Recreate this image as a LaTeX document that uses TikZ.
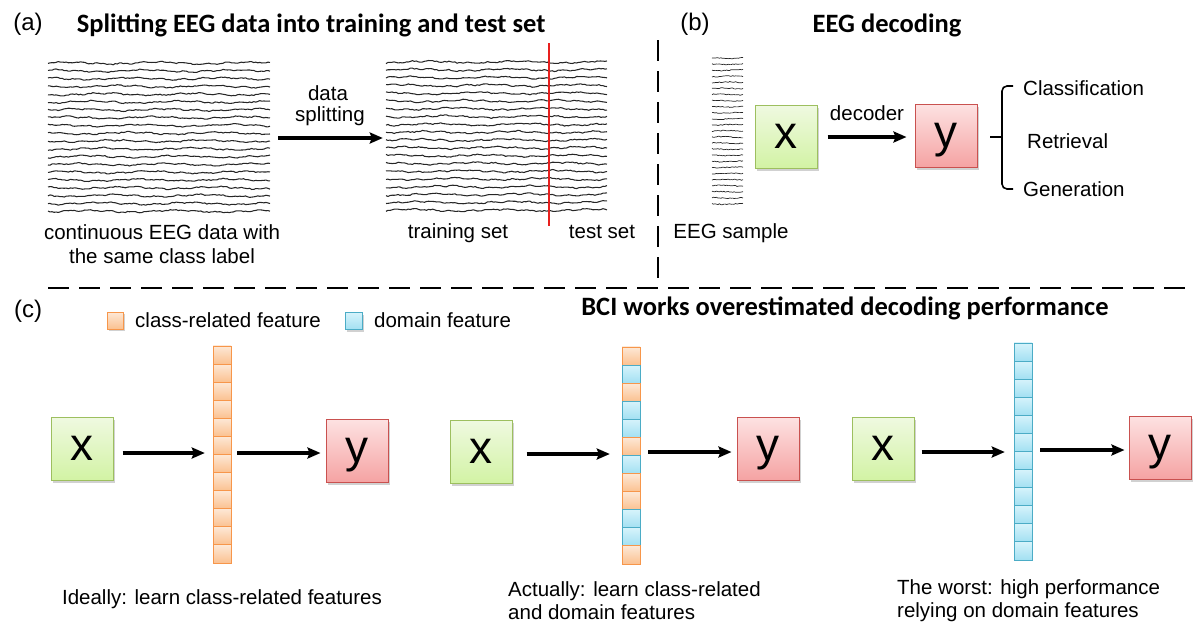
\documentclass[tikz,border=0pt]{standalone}
\usepackage{fontspec}
\setmainfont{Liberation Sans}
\newfontfamily\titlefont{Carlito}
\usetikzlibrary{arrows.meta,shadows,calc}
\definecolor{xgreenT}{HTML}{EFF9E0}
\definecolor{xgreenB}{HTML}{D2F3A4}
\definecolor{xgreenD}{HTML}{9DBF5F}
\definecolor{yredT}{HTML}{FDE2E2}
\definecolor{yredB}{HTML}{F5A2A2}
\definecolor{yredD}{HTML}{C9514F}
\definecolor{orT}{HTML}{FDE8D6}
\definecolor{orB}{HTML}{FBC190}
\definecolor{orD}{HTML}{F7964A}
\definecolor{blT}{HTML}{D6F3FB}
\definecolor{blB}{HTML}{A2E0F2}
\definecolor{blD}{HTML}{4BACC6}
\definecolor{splitred}{HTML}{E8201E}
\begin{document}
\begin{tikzpicture}[x=1pt,y=-1pt,
  lbl/.style={font=\fontsize{20.5}{24}\selectfont, inner sep=0pt},
  plbl/.style={font=\fontsize{24}{28}\selectfont, inner sep=0pt},
  ttl/.style={font=\titlefont\bfseries\fontsize{26.5}{30}\selectfont, inner sep=0pt},
  shade/.style={drop shadow={shadow xshift=1.5pt, shadow yshift=-2pt, opacity=0.3, fill=black!60}},
  xbox/.style={draw=xgreenD, line width=1pt, top color=xgreenT, bottom color=xgreenB,
     minimum width=62pt, minimum height=63pt, inner sep=0pt, text height=23.9pt, text depth=0pt,
     font=\fontsize{46}{46}\selectfont, shade},
  ybox/.style={draw=yredD, line width=1pt, top color=yredT, bottom color=yredB,
     minimum width=62pt, minimum height=63pt, inner sep=0pt, text height=23.9pt, text depth=0pt,
     font=\fontsize{46}{46}\selectfont, shade},
  cello/.style={draw=orD, line width=0.9pt, top color=orT, bottom color=orB,
     minimum width=18pt, minimum height=18.1pt, inner sep=0pt},
  cellb/.style={draw=blD, line width=0.9pt, top color=blT, bottom color=blB,
     minimum width=18pt, minimum height=18.1pt, inner sep=0pt},
  colbox/.style={inner sep=0pt, minimum width=18pt, minimum height=217pt},
  arr/.style={-{Stealth[length=13pt,width=11pt,inset=2pt]}, line width=3.3pt},
  dashline/.style={line width=2.6pt, dash pattern=on 21pt off 10pt},
  trace/.style={line width=1.05pt, black!85, line join=round},
  smalltrace/.style={line width=0.7pt, black!85, line join=round}
]
\useasboundingbox (0,0) rectangle (1200,633);
\pgfmathsetseed{7}

% arrow heights
\coordinate (ha) at (0,138);
\coordinate (hb) at (0,137);
\coordinate (h1) at (0,453);
\coordinate (h2a) at (0,454);
\coordinate (h2b) at (0,452);
\coordinate (h3a) at (0,452);
\coordinate (h3b) at (0,450);

% ---------------- (a) ----------------
\node[plbl, anchor=base] (la) at (28,30) {(a)};
\node[ttl, anchor=base] (ta) at (311,32) {Splitting EEG data into training and test set};

\node[colbox, minimum width=222pt, minimum height=150pt] (eegA) at (159,137) {};
\node[colbox, minimum width=221pt, minimum height=150pt] (eegB) at (496.5,136) {};

\foreach \k in {0,...,19}{
  \pgfmathsetmacro\yy{63+\k*7.8}
  \draw[trace] plot[domain=48:270, samples=110] (\x,{\yy+0.9*sin(\x*4+\k*53)+0.5*sin(\x*17+\k*29)+0.5*rand});
  \draw[trace] plot[domain=386:607, samples=110] (\x,{\yy-1+0.9*sin(\x*4+\k*41)+0.5*sin(\x*19+\k*17)+0.5*rand});
}
\draw[splitred, line width=2pt] (549,43) -- (549,226);

\draw[arr, shorten <=8pt, shorten >=3pt] (eegA.east |- ha) -- (eegB.west |- ha);
\node[lbl, anchor=base] (ds1) at (328,100) {data};
\node[lbl, anchor=base] (ds2) at (330,121) {splitting};

\node[lbl, anchor=base] (ca1) at (162,239) {continuous EEG data with};
\node[lbl, anchor=base] (ca2) at (162,263) {the same class label};
\node[lbl, anchor=base] (trs) at (458,238) {training set};
\node[lbl, anchor=base] (tes) at (602,238) {test set};

% ---------------- divider lines ----------------
\draw[dashline] (658,40) -- (658,282);
\draw[dashline] (48,288) -- (1192,288);

% ---------------- (b) ----------------
\node[plbl, anchor=base] (lb) at (695,30) {(b)};
\node[ttl, anchor=base] (tb) at (887,32) {EEG decoding};

\foreach \k in {0,...,24}{
  \pgfmathsetmacro\yy{58+\k*6.08}
  \draw[smalltrace] plot[domain=712:743, samples=22] (\x,{\yy+0.4*sin(\x*9+\k*47)+0.45*rand});
}
\node[lbl, anchor=base] (es) at (731,238) {EEG sample};

\node[xbox] (xb) at (786,137) {x};
\node[ybox] (yb) at (946,136) {y};
\draw[arr, shorten <=10pt, shorten >=8pt] (xb.east |- hb) -- (yb.west |- hb);
\node[lbl, anchor=base] (dec) at (867,120) {decoder};

\draw[line width=1.6pt, rounded corners=5pt] (1013,86) -- (1002,86) -- (1002,189) -- (1013,189);
\draw[line width=1.6pt] (990,137) -- (1002,137);
\node[lbl, anchor=base west] (cls) at (1023,95) {Classification};
\node[lbl, anchor=base west] (ret) at (1027,148) {Retrieval};
\node[lbl, anchor=base west] (gen) at (1023,196) {Generation};

% ---------------- (c) ----------------
\node[plbl, anchor=base] (lc) at (28,317) {(c)};
\node[ttl, anchor=base] (tc) at (845,315) {BCI works overestimated decoding performance};

\node[cello, minimum width=16pt, minimum height=17pt, shade] (lego) at (115,320.5) {};
\node[lbl, anchor=base west] (legot) at (135,327) {class-related feature};
\node[cellb, minimum width=17pt, minimum height=17pt, shade] (legb) at (354,321) {};
\node[lbl, anchor=base west] (legbt) at (374,327) {domain feature};

% panel c1
\node[xbox] (x1) at (82,449) {x};
\node[ybox] (y1) at (357,451) {y};
\node[colbox] (colA) at (222,454.5) {};
\foreach \c [count=\i] in {o,o,o,o,o,o,o,o,o,o,o,o}
  \node[cell\c] (a\i) at (222,{346+(\i-0.5)*18.08}) {};
\draw[arr, shorten <=9pt, shorten >=8pt] (x1.east |- h1) -- (colA.west |- h1);
\draw[arr, shorten <=6pt, shorten >=5pt] (colA.east |- h1) -- (y1.west |- h1);
\node[lbl, anchor=base] (cap1) at (222,604) {Ideally: learn class-related features};

% panel c2
\node[xbox] (x2) at (481,452) {x};
\node[ybox] (y2) at (768,449) {y};
\node[colbox] (colB) at (631,455.5) {};
\foreach \c [count=\i] in {o,b,o,b,b,o,b,o,o,b,b,o}
  \node[cell\c] (b\i) at (631,{347+(\i-0.5)*18.08}) {};
\draw[arr, shorten <=14pt, shorten >=12pt] (x2.east |- h2a) -- (colB.west |- h2a);
\draw[arr, shorten <=8pt, shorten >=5pt] (colB.east |- h2b) -- (y2.west |- h2b);
\node[lbl, anchor=base west] (cap2a) at (508,596) {Actually: learn class-related};
\node[lbl, anchor=base west] (cap2b) at (508,619) {and domain features};

% panel c3
\node[xbox] (x3) at (883,449) {x};
\node[ybox] (y3) at (1160,448) {y};
\node[colbox] (colC) at (1023,452) {};
\foreach \c [count=\i] in {b,b,b,b,b,b,b,b,b,b,b,b}
  \node[cell\c] (c\i) at (1023,{343+(\i-0.5)*18.08}) {};
\draw[arr, shorten <=7pt, shorten >=9pt] (x3.east |- h3a) -- (colC.west |- h3a);
\draw[arr, shorten <=8pt, shorten >=4pt] (colC.east |- h3b) -- (y3.west |- h3b);
\node[lbl, anchor=base west] (cap3a) at (897,594) {The worst: high performance};
\node[lbl, anchor=base west] (cap3b) at (897,617) {relying on domain features};
\end{tikzpicture}
\end{document}
